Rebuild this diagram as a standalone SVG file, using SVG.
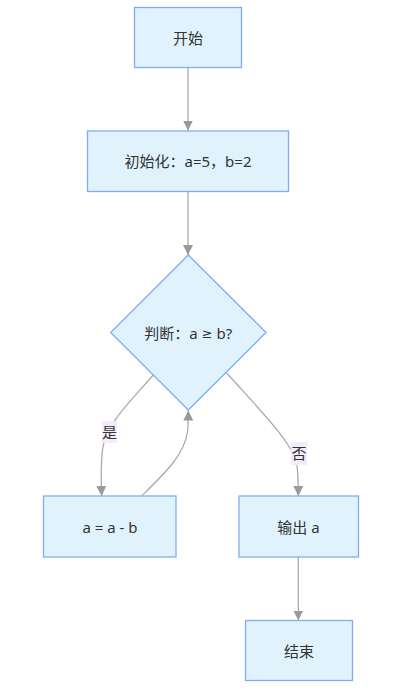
<svg xmlns="http://www.w3.org/2000/svg" width="402" height="697" viewBox="0 0 402 697">
<style>
.node{fill:#e0f3fd;stroke:#80adf6;stroke-width:1.3}
.t{font-family:"Noto Sans","Noto Sans CJK SC",sans-serif;font-size:15px;fill:#333;text-anchor:middle;dominant-baseline:central}
.sym{font-family:"DejaVu Sans",sans-serif;font-size:13px}
.e{fill:none;stroke:#aaaaaa;stroke-width:1.3}
.lb{fill:#f1ebfc}
</style>
<defs>
<marker id="arr" markerUnits="userSpaceOnUse" markerWidth="10" markerHeight="10" viewBox="0 0 10 10" refX="10" refY="5" orient="auto">
<path d="M0,0 L10,5 L0,10 z" fill="#999999"/>
</marker>
</defs>
<g id="edges">
<path class="e" d="M188,67.5 L188,130.5" marker-end="url(#arr)"/>
<path class="e" d="M188,191.5 L188,255" marker-end="url(#arr)"/>
<path class="e" d="M153.3,375 C128,404 106,424 102.5,450 C100.5,466 101,480 101.7,496" marker-end="url(#arr)"/>
<path class="e" d="M141.7,496 C166,472 184,455 187.5,432 C188.3,424 188.3,418 188.3,410.5" marker-end="url(#arr)"/>
<path class="e" d="M226.7,373 C258,408 290,440 296.5,462 C298.3,472 298.3,482 298.3,496" marker-end="url(#arr)"/>
<path class="e" d="M298.3,557 L298.3,620.5" marker-end="url(#arr)"/>
<g id="label-yes"><rect class="lb" x="102" y="421" width="15" height="22"/><text class="t" x="109.5" y="432">是</text></g>
<g id="label-no"><rect class="lb" x="290.7" y="442" width="16.6" height="23"/><text class="t" x="299" y="453">否</text></g>
</g>
<g id="start"><rect class="node" x="134.5" y="7.5" width="107" height="60"/><text class="t" x="188" y="37.5">开始</text></g>
<g id="init"><rect class="node" x="87.5" y="131" width="201" height="60.5"/><text class="t" x="188" y="161">初始化：a=5，b=2</text></g>
<g id="judge"><path class="node" d="M188.3,255 L266,332.5 L188.3,410 L110.7,332.5 Z"/><text class="t" x="188.3" y="332.5">判断：a <tspan class="sym">≥</tspan> b?</text></g>
<g id="sub"><rect class="node" x="43.5" y="496" width="132.5" height="61"/><text class="t" x="110" y="526.5">a = a - b</text></g>
<g id="output"><rect class="node" x="239" y="496" width="119.5" height="61"/><text class="t" x="298.5" y="526.5">输出 a</text></g>
<g id="end"><rect class="node" x="245.5" y="620.5" width="107" height="60"/><text class="t" x="299" y="650.5">结束</text></g>
</svg>
